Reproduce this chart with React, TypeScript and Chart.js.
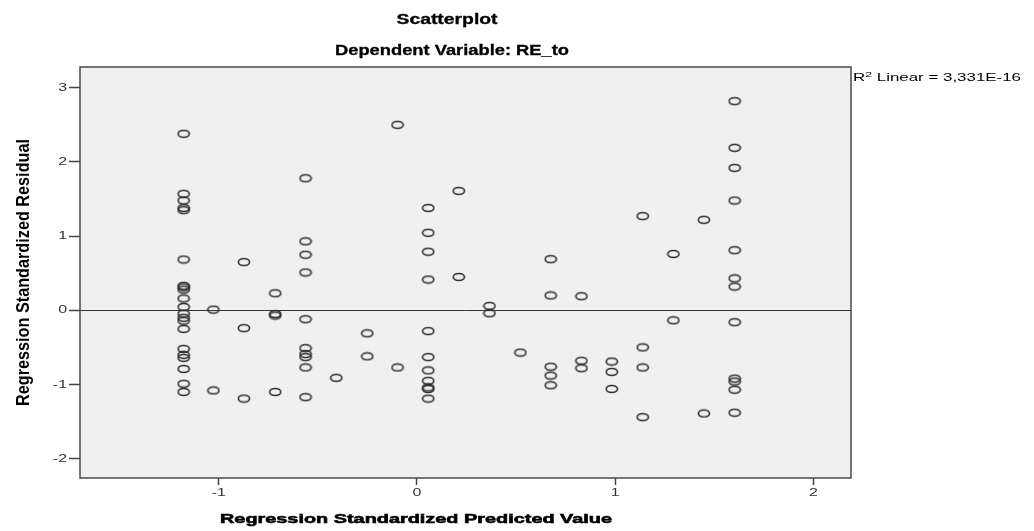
import { useEffect, useRef } from 'react';
import { Chart, registerables } from 'chart.js';

Chart.register(...registerables);

const FONT = "'Liberation Sans', Arial, sans-serif";

// Regression standardized predicted values (distinct levels on the x axis)
const predictedLevels = [
  -1.177, -1.027, -0.873, -0.715, -0.562, -0.407, -0.251, -0.098, 0.057, 0.211,
  0.366, 0.522, 0.675, 0.83, 0.983, 1.139, 1.294, 1.448, 1.603,
];

// Standardized residuals observed at each predicted level
const residualGroups = [
  [2.38, 1.57, 1.48, 1.38, 1.35, 0.685, 0.33, 0.31, 0.28, 0.16, 0.045, -0.045, -0.1, -0.14, -0.25, -0.52, -0.6, -0.64, -0.79, -0.99, -1.1],
  [0.01, -1.08],
  [0.65, -0.24, -1.19],
  [0.23, -0.05, -0.07, -1.1],
  [1.78, 0.93, 0.75, 0.51, -0.12, -0.51, -0.59, -0.63, -0.77, -1.17],
  [-0.91],
  [-0.31, -0.62],
  [2.5, -0.77],
  [1.38, 1.045, 0.79, 0.415, -0.28, -0.63, -0.81, -0.95, -1.04, -1.06, -1.19],
  [1.61, 0.45],
  [0.06, -0.04],
  [-0.57],
  [0.69, 0.2, -0.76, -0.88, -1.01],
  [0.19, -0.68, -0.78],
  [-0.69, -0.83, -1.06],
  [1.27, -0.5, -0.77, -1.44],
  [0.76, -0.135],
  [1.22, -1.39],
  [2.82, 2.19, 1.92, 1.48, 0.81, 0.43, 0.32, -0.16, -0.92, -0.96, -1.07, -1.38],
];

const xTickValues = [-1, 0, 1, 2];
const yTickValues = [-2, -1, 0, 1, 2, 3];

const chartTitle = 'Scatterplot';
const chartSubtitle = 'Dependent Variable: RE_to';
const xAxisTitle = 'Regression Standardized Predicted Value';
const yAxisTitle = 'Regression Standardized Residual';
const fitLabelBase = 'R';
const fitLabelSup = '2';
const fitLabelRest = ' Linear = 3,331E-16';

type TextOpts = {
  font: string;
  align?: CanvasTextAlign;
  baseline?: CanvasTextBaseline;
  length?: number;
  stretch?: number;
  across?: number;
  rotate?: boolean;
  color?: string;
  weight?: number;
};

// Draws text scaled along its direction (to a given length or factor) and across it.
function drawText(ctx: CanvasRenderingContext2D, text: string, x: number, y: number, o: TextOpts) {
  ctx.save();
  ctx.font = o.font;
  ctx.fillStyle = o.color ?? '#000';
  ctx.textAlign = o.align ?? 'center';
  ctx.textBaseline = o.baseline ?? 'alphabetic';
  const w = ctx.measureText(text).width;
  const along = o.length ? o.length / w : o.stretch ?? 1;
  ctx.translate(x, y);
  if (o.rotate) ctx.rotate(-Math.PI / 2);
  ctx.scale(along, o.across ?? 1);
  ctx.fillText(text, 0, 0);
  if (o.weight) {
    ctx.strokeStyle = o.color ?? '#000';
    ctx.lineWidth = o.weight;
    ctx.strokeText(text, 0, 0);
  }
  ctx.restore();
}

function makeMarker(): HTMLCanvasElement {
  const c = document.createElement('canvas');
  c.width = 14;
  c.height = 10;
  const g = c.getContext('2d')!;
  g.strokeStyle = '#2e2e2e';
  g.lineWidth = 1.6;
  g.beginPath();
  g.ellipse(7, 5, 5.6, 3.5, 0, 0, Math.PI * 2);
  g.stroke();
  return c;
}

const plotDecor = {
  id: 'plotDecor',
  beforeDatasetsDraw(chart: any) {
    const { ctx, chartArea: a, scales } = chart;
    ctx.save();
    ctx.fillStyle = '#f0f0f0';
    ctx.fillRect(a.left, a.top, a.right - a.left, a.bottom - a.top);
    const y0 = Math.round(scales.y.getPixelForValue(0)) + 0.5;
    ctx.strokeStyle = '#333';
    ctx.lineWidth = 1;
    ctx.beginPath();
    ctx.moveTo(a.left, y0);
    ctx.lineTo(a.right, y0);
    ctx.stroke();
    ctx.restore();
  },
  afterDatasetsDraw(chart: any) {
    const { ctx, chartArea: a } = chart;
    ctx.save();
    ctx.strokeStyle = '#4a4a4a';
    ctx.lineWidth = 1.5;
    ctx.strokeRect(a.left, a.top, a.right - a.left, a.bottom - a.top);
    ctx.restore();
  },
  afterDraw(chart: any) {
    const { ctx, chartArea: a, scales } = chart;
    const tickFont = `11px ${FONT}`;
    for (const t of scales.y.ticks) {
      drawText(ctx, String(t.value), a.left - 13, scales.y.getPixelForValue(t.value), {
        font: tickFont, align: 'right', baseline: 'middle', stretch: 1.45, color: '#333',
      });
    }
    for (const t of scales.x.ticks) {
      drawText(ctx, String(t.value), scales.x.getPixelForValue(t.value), a.bottom + 15, {
        font: tickFont, align: 'center', baseline: 'middle', stretch: 1.45, color: '#333',
      });
    }
    drawText(ctx, chartTitle, 447, 24, { font: `bold 14px ${FONT}`, length: 101, weight: 0.3 });
    drawText(ctx, chartSubtitle, 452, 55, { font: `bold 14px ${FONT}`, length: 234, weight: 0.3 });
    drawText(ctx, xAxisTitle, 416, 523, { font: `bold 13.5px ${FONT}`, length: 392, weight: 0.6 });
    drawText(ctx, yAxisTitle, 29, (a.top + a.bottom) / 2, {
      font: `bold 18px ${FONT}`, length: 267, rotate: true, across: 1.05,
    });

    // R² annotation to the right of the plot frame
    ctx.save();
    ctx.fillStyle = '#000';
    ctx.textAlign = 'left';
    ctx.textBaseline = 'alphabetic';
    const big = `11px ${FONT}`;
    const small = `8px ${FONT}`;
    ctx.font = big;
    const w1 = ctx.measureText(fitLabelBase).width;
    const w3 = ctx.measureText(fitLabelRest).width;
    ctx.font = small;
    const w2 = ctx.measureText(fitLabelSup).width;
    const sx = 168 / (w1 + w2 + w3);
    ctx.translate(a.right + 2, 81);
    ctx.scale(sx, 1);
    ctx.font = big;
    ctx.fillText(fitLabelBase, 0, 0);
    ctx.font = small;
    ctx.fillText(fitLabelSup, w1, -4);
    ctx.font = big;
    ctx.fillText(fitLabelRest, w1 + w2, 0);
    ctx.restore();
  },
};

export default function App() {
  const ref = useRef<HTMLCanvasElement>(null);

  useEffect(() => {
    const points = predictedLevels.flatMap((x, i) => residualGroups[i].map((y) => ({ x, y })));
    const marker = makeMarker();
    const chart = new Chart(ref.current!, {
      type: 'scatter',
      data: {
        datasets: [
          {
            data: points,
            pointStyle: marker as any,
            pointRadius: 5,
            pointHoverRadius: 5,
          },
        ],
      },
      options: {
        responsive: false,
        animation: false,
        events: [],
        layout: { padding: { left: 69, right: 183, top: 67, bottom: 46 } },
        plugins: { legend: { display: false }, tooltip: { enabled: false }, title: { display: false } },
        scales: {
          x: {
            type: 'linear',
            min: -1.7,
            max: 2.19,
            afterBuildTicks: (s: any) => {
              s.ticks = xTickValues.map((v) => ({ value: v }));
            },
            ticks: { display: false },
            grid: { display: true, drawOnChartArea: false, drawTicks: true, tickLength: 7, tickColor: '#444', tickWidth: 1.5 },
            border: { display: false },
          },
          y: {
            type: 'linear',
            min: -2.26,
            max: 3.28,
            afterBuildTicks: (s: any) => {
              s.ticks = yTickValues.map((v) => ({ value: v }));
            },
            ticks: { display: false },
            grid: { display: true, drawOnChartArea: false, drawTicks: true, tickLength: 11, tickColor: '#444', tickWidth: 1.5 },
            border: { display: false },
          },
        },
      },
      plugins: [plotDecor],
    });
    return () => chart.destroy();
  }, []);

  return (
    <div style={{ position: 'absolute', left: 0, top: 0, width: 1034, height: 531, background: '#fff' }}>
      <canvas ref={ref} width={1034} height={531} style={{ display: 'block' }} />
    </div>
  );
}
